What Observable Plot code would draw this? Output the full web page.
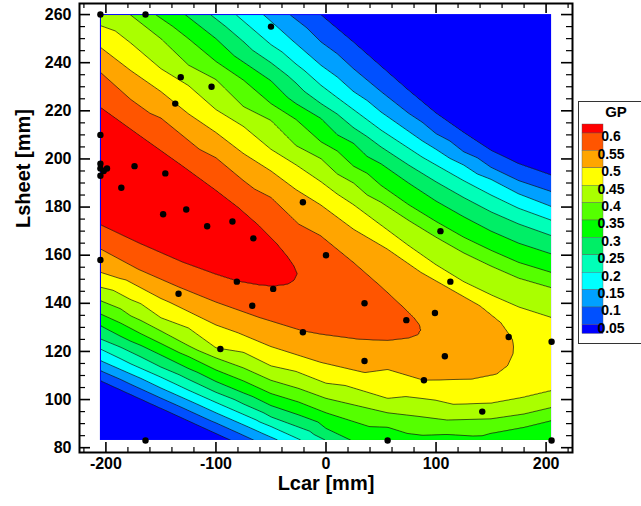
<!DOCTYPE html>
<html>
<head>
<meta charset="utf-8">
<script src="https://cdn.jsdelivr.net/npm/d3@7"></script>
<script src="https://cdn.jsdelivr.net/npm/@observablehq/plot@0.6"></script>
<style>
  html, body { margin: 0; padding: 0; background: #fff; }
  svg { font-family: "Liberation Sans", Arial, sans-serif; }
</style>
</head>
<body>
<script>
// ---- contour levels and band colours (lowest band first) ----
const levels = [0.05, 0.1, 0.15, 0.2, 0.25, 0.3, 0.35, 0.4, 0.45, 0.5, 0.55, 0.6];
const bandColors = ["#0000FF", "#0050FF", "#00A0FF", "#00FFFF", "#00FFB8", "#00EE66",
                    "#00FF00", "#55FF00", "#AAFF00", "#FFFF00", "#FFA500", "#FF5500", "#FF0000"];

// ---- contour lines: [Lcar, Lsheet] in mm ----
const line005 = [[-5,260],[25,248.5],[50,238.5],[75,228.5],[100,219],[125,211],[150,203.5],[175,198],[205,193.2],
                 [-205,107.9],[-150,96.4],[-110,88],[-86,83]];
const line010 = [[-33,260],[-4.5,248.6],[25,237.5],[50,228],[75,219],[100,210.5],[125,203],[150,196.5],[175,191],[205,186.4],
                 [-205,112],[-150,100.6],[-100,90.3],[-65,83]];
const line015 = [[-57,260],[-30,249],[-4.5,238.9],[25,228],[50,219.5],[75,211.5],[100,204],[125,197.5],[150,191.5],[175,185.5],[205,180.2],
                 [-205,116.2],[-150,104.8],[-100,94.5],[-70,88.5],[-43,83]];
const line020 = [[-82,260],[-50,247.5],[-4.5,230.6],[25,220.5],[50,212],[75,204.5],[100,197.5],[125,191],[150,185],[175,179.5],[205,174.5],
                 [-205,121],[-150,109.3],[-100,98.8],[-50,88.8],[-22,83]];
const line025 = [[-105,260],[-50,240],[-4.5,223],[25,213],[50,205],[75,197.5],[100,190.5],[125,184],[150,178],[175,173],[205,168.1],
                 [-205,125.2],[-150,113.5],[-100,103],[-50,92.8],[0,83]];
const line030 = [[-128,260],[-100,250],[-50,232.5],[-4.5,216.8],[25,206.5],[50,198],[75,190],[100,182.5],[125,176],[150,170],[175,165],[205,160.5],
                 [-205,130.7],[-150,118.5],[-100,107.5],[-50,97.5],[0,88],[23,83]];
const line035 = [[-155,260],[-100,240.5],[-50,223],[-4.5,207.1],[25,197],[50,189],[75,181],[100,174],[125,167.5],[150,162],[175,157],[205,152.8],
                 [-205,135.6],[-150,123.3],[-100,112.3],[-50,102.5],[0,94.5],[56,88.5],[110,85.5],[150,86],[180,88.5],[205,91.3]];
const line040 = [[-178,260],[-150,250],[-100,233],[-50,216],[-4.5,200.1],[25,190],[50,182],[75,174.5],[100,167.5],[125,161],[150,155.5],[175,150.5],[205,146.5],
                 [-205,141.1],[-150,128.5],[-100,117.3],[-50,108],[0,100.5],[56,94.5],[110,91.5],[150,92],[180,94],[205,96.7]];
const line045 = [[-205,255.4],[-150,237.5],[-100,220.5],[-50,204],[-4.5,190.5],[25,181],[50,172.5],[75,164],[100,156],[125,149],[150,143.5],[175,138.5],[205,134.1],
                 [-205,146.7],[-150,134],[-100,121.5],[-50,114],[0,106.8],[56,100.5],[116,98],[150,98.5],[180,101],[205,103.7]];
const line050 = [[-205,246.4],[-150,228],[-100,211],[-50,195],[-4.5,180.8],[25,170.8],[56,162.5],[86,153],[113,146],[140,139],[159,132],[166,127.5],[169.5,125],
                 [170.5,122],[170,119],[165,114],[155,110.5],[132,108.4],[89,108],[35,111.2],[-4.5,115.4],[-50,122],[-100,131],[-150,142],[-205,152.9]];
const line055 = [[-205,236],[-150,217],[-100,200.5],[-50,184],[-4.5,168],[25,157],[50,147],[70,138.5],[80,134],[85,131],
                 [86.5,129],[84,127],[75,125.5],[56,124.5],[30,125],[-4.5,127.1],[-21,128.5],[-60,134],[-100,140.5],[-134,146.8],[-170,154],[-205,162.6]];
const line060 = [[-205,221.5],[-170,210],[-130,197],[-100,187],[-80,180],[-60,172],[-45,165],[-35,159.5],[-29,155.5],
                 [-26,152.3],[-29,149.5],[-35,147.8],[-48,147],[-60,147.5],[-81,149.2],[-100,152],[-130,157],[-170,165],[-205,172.6]];
const contourLines = [line005, line010, line015, line020, line025, line030, line035, line040, line045, line050, line055, line060];

// ---- values read between the lines: ridge crest, corners and edges ----
const ridgeX = [-205, -170, -130, -100, -60, -38, 0, 50, 75, 100, 140, 160, 185, 205];
const ridgeY = [197, 187.5, 177, 169.5, 160, 154.5, 147, 135.7, 131, 128.8, 123.7, 121.5, 120, 119];
const ridgeV = [0.635, 0.632, 0.625, 0.618, 0.608, 0.603, 0.58, 0.565, 0.555, 0.54, 0.52, 0.505, 0.49, 0.48];
const edgeX = [-205, 205, 100, 205, -205, -140, 205, 80, 140];
const edgeY = [260, 260, 260, 230, 83, 83, 83, 83, 83];
const edgeV = [0.427, 0.0, 0.0, 0.0, -0.02, -0.02, 0.32, 0.333, 0.336];

// ---- design points (black dots) ----
const ptLcar = [-205,-164,-50,-132,-104,-137,-205,-205,-205,-205,-199,-202,-174,-186,-146,-148,-127,-108,-85,-66,-21,0,
                -205,-134,-81,-48,-67,-96,-21,-164,35,73,99,113,104,35,108,89,166,205,142,56,205];
const ptLsheet = [260,260,255,234,230,223,210,198,196,193,196,195,197,188,194,177,179,172,174,167,182,160,
                  158,144,149,146,139,121,128,83,140,133,136,149,170,116,118,108,126,124,95,83,83];

// ---- axes ----
const lcarExtent = [-205, 205];
const lsheetExtent = [83, 260];
const xMajor = [-200, -100, 0, 100, 200];
const xMinor = d3.range(-220, 221, 20).filter(d => d % 100 !== 0);
const yMajor = d3.range(80, 261, 20);
const yMinor = d3.range(80, 265, 5).filter(d => d % 20 !== 0);

// build the sample table for the contour mark
const samples = [];
contourLines.forEach((pts, i) => pts.forEach(([x, y]) => samples.push({x, y, v: levels[i]})));
ridgeX.forEach((x, i) => samples.push({x, y: ridgeY[i], v: ridgeV[i]}));
edgeX.forEach((x, i) => samples.push({x, y: edgeY[i], v: edgeV[i]}));
const points = ptLcar.map((x, i) => ({x, y: ptLsheet[i]}));

const W = 641, H = 506, mL = 79, mR = 69, mT = 3, mB = 54;
const fw = W - mL - mR, fh = H - mT - mB;
const font = "Liberation Sans, Arial, sans-serif";

const chart = Plot.plot({
  width: W, height: H,
  marginLeft: mL, marginRight: mR, marginTop: mT, marginBottom: mB,
  style: {fontFamily: font, background: "white"},
  x: {domain: [-224, 224]},
  y: {domain: [78, 264.6]},
  color: {type: "threshold", domain: levels.slice(1), range: bandColors.slice(1)},
  marks: [
    Plot.rect([lcarExtent], {x1: d => d[0], x2: d => d[1], y1: () => lsheetExtent[0], y2: () => lsheetExtent[1], fill: bandColors[0]}),
    Plot.contour(samples, {
      x: "x", y: "y", fill: "v", interpolate: "barycentric", thresholds: levels,
      x1: lcarExtent[0], x2: lcarExtent[1], y1: lsheetExtent[0], y2: lsheetExtent[1],
      pixelSize: 1, stroke: "#111", strokeWidth: 0.7
    }),
    Plot.dot(points, {x: "x", y: "y", r: 3.2, fill: "black", stroke: "none"}),
    // inward ticks
    Plot.tickX(xMajor, {x: d => d, insetTop: fh - 10, stroke: "black", strokeWidth: 1.6}),
    Plot.tickX(xMinor, {x: d => d, insetTop: fh - 5, stroke: "black", strokeWidth: 1.2}),
    Plot.tickX(xMajor, {x: d => d, insetBottom: fh - 10, stroke: "black", strokeWidth: 1.6}),
    Plot.tickX(xMinor, {x: d => d, insetBottom: fh - 5, stroke: "black", strokeWidth: 1.2}),
    Plot.tickY(yMajor, {y: d => d, insetRight: fw - 11, stroke: "black", strokeWidth: 1.6}),
    Plot.tickY(yMinor, {y: d => d, insetRight: fw - 6, stroke: "black", strokeWidth: 1.2}),
    Plot.tickY(yMajor, {y: d => d, insetLeft: fw - 11, stroke: "black", strokeWidth: 1.6}),
    Plot.tickY(yMinor, {y: d => d, insetLeft: fw - 6, stroke: "black", strokeWidth: 1.2}),
    Plot.axisX({ticks: xMajor, tickSize: 0, tickPadding: 5, tickFormat: d => String(d), label: null,
                fontSize: 16, fontWeight: "bold", fill: "black"}),
    Plot.axisY({ticks: yMajor, tickSize: 0, tickPadding: 8, tickFormat: d => String(d), label: null,
                fontSize: 16, fontWeight: "bold", fill: "black"}),
    Plot.text(["Lcar [mm]"], {frameAnchor: "bottom", dy: 37, fontSize: 20, fontWeight: "bold", fill: "black"}),
    Plot.text(["Lsheet [mm]"], {frameAnchor: "left", dx: -56, rotate: -90, fontSize: 20, fontWeight: "bold", fill: "black"}),
    Plot.frame({stroke: "black", strokeWidth: 2})
  ]
});
document.body.appendChild(chart);

// clip the contour outline strokes that fall on the edge of the data area
const sx = chart.scale("x"), sy = chart.scale("y");
const svg = d3.select(chart);
const cx0 = sx.apply(lcarExtent[0]) + 0.5, cx1 = sx.apply(lcarExtent[1]) - 0.5;
const cy0 = sy.apply(lsheetExtent[1]) + 0.5, cy1 = sy.apply(lsheetExtent[0]) - 0.5;
svg.insert("defs", ":first-child").append("clipPath").attr("id", "gp-clip")
  .append("rect").attr("x", cx0).attr("y", cy0).attr("width", cx1 - cx0).attr("height", cy1 - cy0);
svg.selectAll('g[aria-label="contour"]').attr("clip-path", "url(#gp-clip)");

// legend (GP)
const lg = svg.append("g").attr("font-family", font).attr("font-weight", "bold");
lg.append("rect").attr("x", 578.5).attr("y", 101.5).attr("width", 80).attr("height", 242)
  .attr("fill", "white").attr("stroke", "#333").attr("stroke-width", 1);
lg.append("text").attr("x", 616).attr("y", 117).attr("font-size", 15).attr("fill", "black").text("GP");
const top0 = 124, band = 17.4, half = 9;
const swatches = bandColors.slice().reverse(); // red first
swatches.forEach((c, i) => {
  let y0, h;
  if (i === 0) { y0 = top0; h = half; }
  else if (i === swatches.length - 1) { y0 = top0 + half + band * (i - 1); h = half; }
  else { y0 = top0 + half + band * (i - 1); h = band; }
  lg.append("rect").attr("x", 582).attr("y", y0).attr("width", 21).attr("height", h)
    .attr("fill", c).attr("stroke", "#555").attr("stroke-width", 0.4);
});
levels.slice().reverse().forEach((lv, i) => {
  lg.append("text").attr("x", 611).attr("y", top0 + half + band * i + 3.5)
    .attr("dy", "0.35em").attr("font-size", 14).attr("fill", "black").text(String(lv));
});
</script>
</body>
</html>
